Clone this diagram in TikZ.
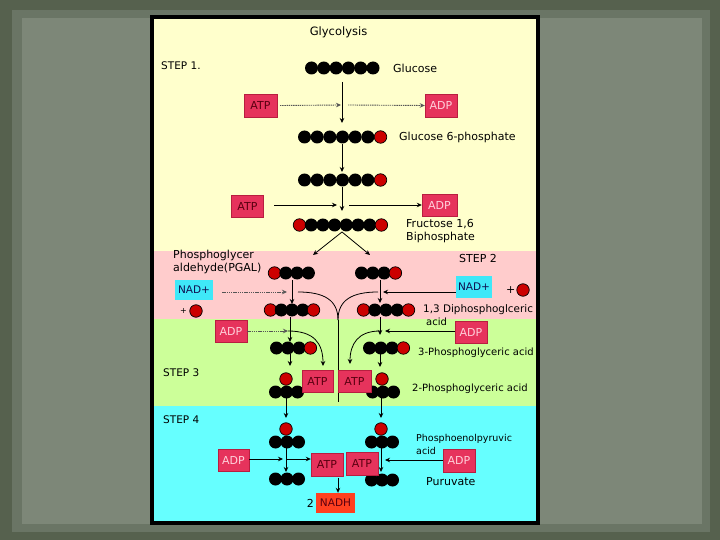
\documentclass[tikz,border=0pt]{standalone}
\usepackage{fontspec}
\setmainfont{DejaVu Sans}
\usetikzlibrary{arrows.meta}
\definecolor{outerbg}{HTML}{56614E}
\definecolor{innerbg}{HTML}{7D8778}
\definecolor{midbg}{HTML}{6A7565}
\definecolor{ylw}{HTML}{FFFFCC}
\definecolor{pnk}{HTML}{FFCCCC}
\definecolor{grn}{HTML}{CCFF99}
\definecolor{cyn}{HTML}{66FFFF}
\definecolor{boxred}{HTML}{E6335C}
\definecolor{boxedge}{HTML}{B81E40}
\definecolor{atptext}{HTML}{5A0010}
\definecolor{adptext}{HTML}{FFD0DA}
\definecolor{nadbox}{HTML}{3FE8F8}
\definecolor{nadtext}{HTML}{101050}
\definecolor{nadhbox}{HTML}{FF4020}
\definecolor{ballred}{HTML}{CC0000}
\definecolor{dotgray}{HTML}{555555}
\newcommand\chainrow[5]{%
  \foreach \c [count=\i] in {#5} {\node[ball\c] (#1\i) at ({#2+(\i-1)*#4},#3) {};}}
\begin{document}
\begin{tikzpicture}[x=1pt,y=-1pt,
  ballk/.style={circle,fill=black,inner sep=0pt,minimum size=13pt},
  ballr/.style={circle,fill=ballred,draw=black,line width=0.7pt,inner sep=0pt,minimum size=12.5pt},
  rbox/.style={rectangle,fill=boxred,draw=boxedge,line width=0.4pt,inner sep=0pt,
    minimum width=32pt,minimum height=22pt,font=\fontsize{11}{13}\selectfont},
  atpbox/.style={rbox,text=atptext},
  adpbox/.style={rbox,text=adptext},
  nadbox/.style={rectangle,fill=nadbox,inner sep=0pt,minimum width=37pt,minimum height=21pt,
    text=nadtext,font=\fontsize{10.5}{12}\selectfont},
  lbl/.style={anchor=west,inner sep=0pt,font=\fontsize{11}{13}\selectfont,text=black},
  lbs/.style={lbl,font=\fontsize{10}{12}\selectfont},
  arr/.style={-{Stealth[length=5pt,width=4.5pt]},line width=0.8pt,black},
  ln/.style={line width=0.8pt,black},
  dotln/.style={dotgray,dash pattern=on 1.4pt off 0.8pt,line width=0.9pt}
]
\useasboundingbox (0,0) rectangle (720,540);
% background
\fill[outerbg] (0,0) rectangle (720,540);
\fill[midbg] (12,10) rectangle (710,532);
\fill[innerbg] (22,18) rectangle (702,524);
% panel
\fill[black] (150,15) rectangle (540,525);
\fill[ylw] (154,19) rectangle (536,251);
\fill[pnk] (154,251) rectangle (536,319);
\fill[grn] (154,319) rectangle (536,406);
\fill[cyn] (154,406) rectangle (536,521);

% named coordinates for connectors
\coordinate (a1) at (342,82);   \coordinate (a1t) at (342,123);
\coordinate (a2) at (342,144);  \coordinate (a2t) at (342,172);
\coordinate (a3) at (342,187);  \coordinate (a3t) at (342,211);
\coordinate (h1s) at (280,105); \coordinate (h1t) at (341,105);
\coordinate (h2s) at (348,105);
\coordinate (h3s) at (274,205); \coordinate (h3t) at (337,205);
\coordinate (h4s) at (349,205);
\coordinate (fork) at (342,232);
\coordinate (fl) at (313,255); \coordinate (fr) at (370,255);
\coordinate (nl) at (287,292); \coordinate (nr) at (383,292);
\coordinate (vl1) at (292,280); \coordinate (vl1t) at (292,304);
\coordinate (vr1) at (380,280); \coordinate (vr1t) at (380,303);
\coordinate (cl) at (298,292); \coordinate (cr) at (378,292);
\coordinate (cm) at (338,320); \coordinate (cb) at (338,402);
\coordinate (vl2) at (290,317); \coordinate (vl2t) at (290,342);
\coordinate (vr2) at (380,317); \coordinate (vr2t) at (380,335);
\coordinate (gl) at (288,331); \coordinate (gr) at (385,331);
\coordinate (gcl) at (323,366); \coordinate (gcr) at (350,364);
\coordinate (vl3) at (290,354); \coordinate (vl3t) at (290,366);
\coordinate (vr3) at (380,354); \coordinate (vr3t) at (380,367);
\coordinate (vl4) at (286,398); \coordinate (vl4t) at (286,418);
\coordinate (vr4) at (381,398); \coordinate (vr4t) at (381,418);
\coordinate (vl5) at (286,448); \coordinate (vl5t) at (286,472);
\coordinate (vr5) at (381,448); \coordinate (vr5t) at (381,472);
\coordinate (pl) at (283,459); \coordinate (pl2) at (286,459);
\coordinate (pr) at (385,460);
\coordinate (nh) at (338,478);

% connectors (drawn beneath molecules)
\draw[arr] (a1) -- (a1t);
\draw[arr] (a2) -- (a2t);
\draw[arr] (a3) -- (a3t);
\draw[arr] (fork) -- (fl);
\draw[arr] (fork) -- (fr);
\draw[arr] (vl1) -- (vl1t);
\draw[arr] (vr1) -- (vr1t);
\draw[ln] (cl) .. controls (324,292) and (338,300) .. (cm);
\draw[ln] (cr) .. controls (352,292) and (338,300) .. (cm);
\draw[ln] (cm) -- (cb);
\draw[arr] (vl2) -- (vl2t);
\draw[arr] (vr2) -- (vr2t);
\draw[arr] (vl3) -- (vl3t);
\draw[arr] (vr3) -- (vr3t);
\draw[arr] (gl) .. controls (314,331) and (323,343) .. (gcl);
\draw[arr] (380,331) .. controls (358,331) and (350,344) .. (gcr);
\draw[arr] (vl4) -- (vl4t);
\draw[arr] (vr4) -- (vr4t);
\draw[arr] (vl5) -- (vl5t);
\draw[arr] (vr5) -- (vr5t);

% molecules
\chainrow{glc}{311.5}{68}{12.3}{k,k,k,k,k,k}
\chainrow{gsp}{304.5}{137}{12.67}{k,k,k,k,k,k,r}
\chainrow{fsp}{304.5}{180}{12.67}{k,k,k,k,k,k,r}
\chainrow{fbp}{299.5}{225}{11.7}{r,k,k,k,k,k,k,r}
\chainrow{pgl}{274.5}{273}{11.3}{r,k,k,k}
\chainrow{pgr}{361.5}{273}{11.3}{k,k,k,r}
\chainrow{bpl}{270.5}{310}{10.75}{r,k,k,k,r}
\chainrow{bpr}{363.5}{310}{11.25}{r,k,k,k,r}
\chainrow{tpl}{276.5}{348}{11.3}{k,k,k,r}
\chainrow{tpr}{369.5}{348}{11.3}{k,k,k,r}
\chainrow{dpl}{275.5}{392}{11}{k,k,k}
\node[ballr] (dplp) at (286,379) {};
\chainrow{dpr}{372.5}{392}{10.5}{k,k,k}
\node[ballr] (dprp) at (382,379) {};
\chainrow{pel}{275.5}{442}{11.5}{k,k,k}
\node[ballr] (pelp) at (286,429) {};
\chainrow{per}{371.5}{442}{10.5}{k,k,k}
\node[ballr] (perp) at (381,429) {};
\chainrow{pyl}{275.5}{479}{11.5}{k,k,k}
\chainrow{pyr}{371.5}{480}{10.5}{k,k,k}
\node[ballr] (pil) at (196,311) {};
\node[ballr] (pir) at (523,290) {};

% boxes
\node[atpbox,minimum width=33pt,minimum height=23pt] (atp1) at (260.5,105.5) {ATP};
\node[adpbox,minimum height=23pt] (adp1) at (441,105.5) {ADP};
\node[atpbox] (atp2) at (247.5,206) {ATP};
\node[adpbox,minimum width=35pt] (adp2) at (439.5,205) {ADP};
\node[nadbox,minimum width=38pt,minimum height=20pt] (nad1) at (194,290) {NAD+};
\node[nadbox,minimum width=36pt,minimum height=22pt] (nad2) at (474,287) {NAD+};
\node[adpbox] (adp3) at (231,331) {ADP};
\node[adpbox] (adp4) at (471,332) {ADP};
\node[atpbox,minimum width=31pt] (atp3) at (317.5,381) {ATP};
\node[atpbox,minimum width=33pt] (atp4) at (354.5,381) {ATP};
\node[adpbox,minimum width=31pt] (adp5) at (233.5,460) {ADP};
\node[adpbox,minimum height=23pt] (adp6) at (459,460.5) {ADP};
\node[atpbox,minimum height=23pt] (atp5) at (327,464.5) {ATP};
\node[atpbox,minimum height=23pt] (atp6) at (362,463.5) {ATP};
\node[rectangle,fill=nadhbox,inner sep=0pt,minimum width=39pt,minimum height=20pt,
  text=atptext,font=\fontsize{10.5}{12}\selectfont] (nadh) at (335.5,503) {NADH};

% side connectors
\draw[dotln,-{Stealth[length=5pt,width=4.5pt]}] (atp1.east -| h1s) -- (h1t);
\draw[dotln,-{Stealth[length=5pt,width=4.5pt]}] (h2s) -- (adp1.west);
\draw[arr] (h3s) -- (h3t);
\draw[arr] (h4s) -- (adp2.west);
\draw[dotln,-{Stealth[length=5pt,width=4.5pt]}] (nad1.east) ++(9,2) -- (nl);
\draw[arr] (nad2.west |- nr) -- (nr);
\draw[dotln,-{Stealth[length=5pt,width=4.5pt]}] (adp3.east) -- (gl);
\draw[arr] (adp4.west |- gr) -- (gr);
\draw[arr] (adp5.east |- pl) -- (pl);
\draw[arr] (pl2) -- (atp5.west |- pl2);
\draw[arr] (adp6.west |- pr) -- (pr);
\draw[arr] (nh) -- (nh |- nadh.north);

% labels
\node[lbl,anchor=center,font=\fontsize{11.5}{13}\selectfont] (title) at (338.5,32) {Glycolysis};
\node[lbl,font=\fontsize{10.5}{12}\selectfont] (s1) at (161,66) {STEP 1.};
\node[lbl] (t1) at (393,68) {Glucose};
\node[lbl] (t2) at (399,137) {Glucose 6-phosphate};
\node[lbl] (t3) at (406,224) {Fructose 1,6};
\node[lbl] (t4) at (406,237.5) {Biphosphate};
\node[lbl] (t5) at (173,255) {Phosphoglycer};
\node[lbl] (t6) at (173,268.5) {aldehyde(PGAL)};
\node[lbl] (s2) at (459,258) {STEP 2};
\node[lbl,font=\fontsize{8}{10}\selectfont] (p1) at (180,311) {+};
\node[lbl] (p2) at (506,290) {+};
\node[lbs,font=\fontsize{10.4}{12}\selectfont] (t7) at (423,310) {1,3 Diphosphoglceric};
\node[lbs] (t8) at (426,322) {acid};
\node[lbs] (t9) at (418,353) {3-Phosphoglyceric acid};
\node[lbl,font=\fontsize{10.5}{12}\selectfont] (s3) at (163,373) {STEP 3};
\node[lbs] (t10) at (412,389) {2-Phosphoglyceric acid};
\node[lbl,font=\fontsize{10.5}{12}\selectfont] (s4) at (163,420) {STEP 4};
\node[lbs,font=\fontsize{9.5}{11}\selectfont] (t11) at (416,439) {Phosphoenolpyruvic};
\node[lbs,font=\fontsize{9.5}{11}\selectfont] (t12) at (416,450.5) {acid};
\node[lbl] (t13) at (426,482) {Puruvate};
\node[lbl,anchor=east] (two) at (314,503) {2};
\end{tikzpicture}
\end{document}
